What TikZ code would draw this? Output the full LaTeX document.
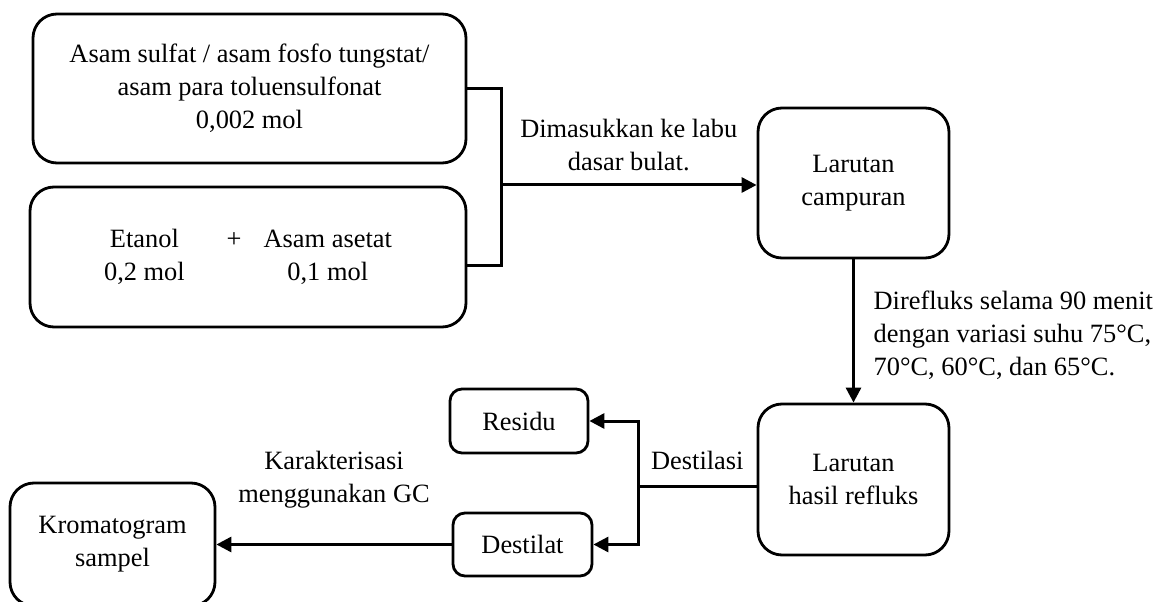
\documentclass[tikz,border=0pt]{standalone}
\usepackage{fontspec}
\setmainfont{Liberation Serif}
\usetikzlibrary{arrows.meta, calc, positioning}

\begin{document}
\begin{tikzpicture}[font=\fontsize{13.2}{16.5}\selectfont,
    box/.style={draw, line width=1.4pt, rounded corners=12pt, align=center, inner sep=2pt},
    smallbox/.style={box, rounded corners=6pt},
    arr/.style={-{Triangle[length=7.5pt,width=7.5pt]}, line width=1.5pt},
    lnk/.style={line width=1.5pt}]
\begin{scope}[x=0.5pt,y=0.5pt]
    \useasboundingbox (0,0) rectangle (1158,601);

    %
    \node[box,minimum width=216.5pt,minimum height=74.5pt] (katalis) at (249.5,512.5)
        {Asam sulfat / asam fosfo tungstat/\\asam para toluensulfonat\\0,002 mol};
    \node[box,minimum width=218pt,minimum height=70pt] (reaktan) at (248,344)
        {\begin{tabular}{c@{\hspace{21pt}}c@{\hspace{11pt}}c}
         Etanol & + & Asam asetat\\ 0,2 mol & & 0,1 mol\end{tabular}};

    %
    \node[box,minimum width=95.5pt,minimum height=75pt] (campuran) at (853.5,418)
        {Larutan\\campuran};
    \node[box,minimum width=95.5pt,minimum height=75.5pt] (refluks) at (853.5,121.5)
        {Larutan\\hasil refluks};

    %
    \node[smallbox,minimum width=69pt,minimum height=32pt] (residu) at (519,180) {Residu};
    \node[smallbox,minimum width=69.5pt,minimum height=31.5pt] (destilat) at (522.5,56.5) {Destilat};
    \node[box,minimum width=102.5pt,minimum height=61.5pt] (kromatogram) at (112.5,56.5)
        {Kromatogram\\sampel};

    %
    \coordinate (gabung) at (501,416);
    \coordinate (cabang) at (638,115);

    \draw[lnk] (katalis.east) -| (gabung) |- ([yshift=-4.5pt]reaktan.east);
    \draw[arr] (gabung) -- (gabung -| campuran.west)
        node[midway,above=3pt,align=center] {Dimasukkan ke labu\\dasar bulat.};
    \draw[arr] (campuran.south) -- (refluks.north)
        node[midway,right=6pt,yshift=-2pt,align=left] {Direfluks selama 90 menit\\dengan variasi suhu 75°C,\\70°C, 60°C, dan 65°C.};
    \draw[lnk] (cabang -| refluks.west) -- (cabang)
        node[midway,above=4pt] {Destilasi};
    \draw[arr] (cabang) |- (residu.east);
    \draw[arr] (cabang) |- (destilat.east);
    \draw[arr] (destilat.west) -- (kromatogram.east)
        node[midway,above=14pt,align=center] {Karakterisasi\\menggunakan GC};
\end{scope}
\end{tikzpicture}
\end{document}
